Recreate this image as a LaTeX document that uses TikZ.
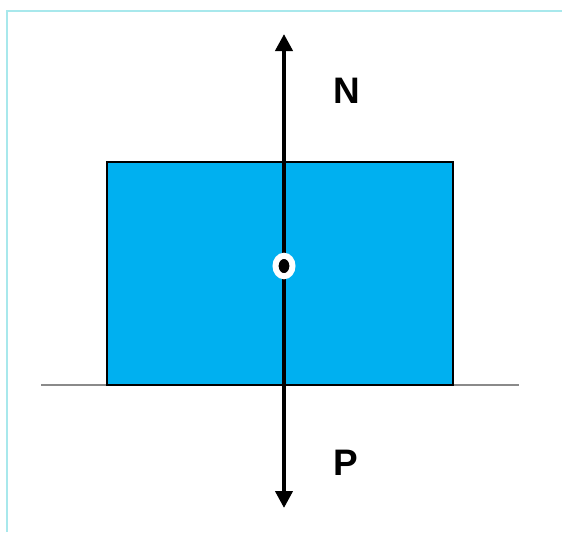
\documentclass[tikz,border=0pt]{standalone}
\usepackage{fontspec}
\setmainfont{Liberation Sans}
\usepackage{tikz}
\usetikzlibrary{arrows.meta, positioning, shapes.geometric}
\definecolor{blockblue}{HTML}{00B0F0}
\definecolor{framecyan}{HTML}{A8E8EC}
\definecolor{groundgray}{HTML}{8A8A8A}

\begin{document}
\begin{tikzpicture}[x=0.02cm, y=-0.02cm,
    force/.style={line width=2.3pt, -{Triangle[width=0.34cm, length=0.34cm]}},
    lab/.style={font=\fontsize{21}{25}\selectfont\bfseries}]
    \useasboundingbox (0,0) rectangle (562,532);
    % frame
    \draw[framecyan, line width=0.6pt] (7,532) -- (7,11) -- (562,11);
    % ground and block
    \coordinate (gl) at (41,385);
    \coordinate (gr) at (519,385);
    \draw[groundgray, line width=1.2pt] (gl) -- (gr);
    \node[draw=black, line width=1.1pt, fill=blockblue, minimum width=6.92cm, minimum height=4.46cm, inner sep=0pt] (block) at (280,273.5) {};
    % forces
    \coordinate (o) at (284,266);
    \coordinate (ntip) at (284,34);
    \coordinate (ptip) at (284,508);
    \draw[force] (o) -- (ntip);
    \draw[force] (o) -- (ptip);
    \node[lab] (N) at (347,91) {N};
    \node[lab] (P) at (346,463) {P};
    % centre of mass
    \node[draw=white, line width=3.4pt, fill=black, ellipse, minimum width=0.34cm, minimum height=0.41cm, inner sep=0pt] (cm) at (o) {};
\end{tikzpicture}
\end{document}
